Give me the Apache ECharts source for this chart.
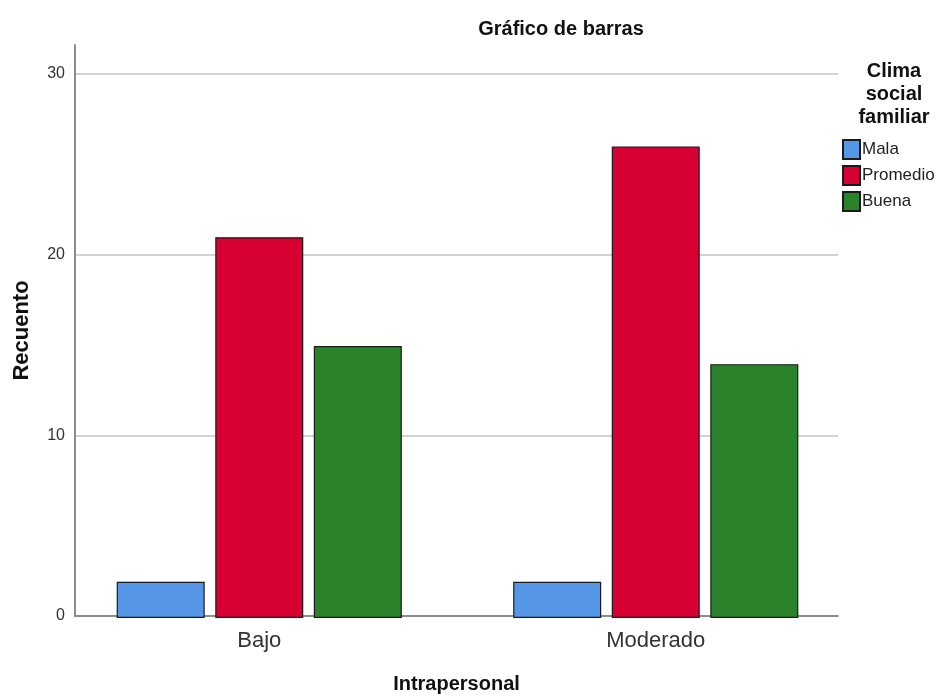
<!DOCTYPE html>
<html>
<head>
<meta charset="utf-8">
<script src="https://cdn.jsdelivr.net/npm/echarts@6/dist/echarts.min.js"></script>
<style>html,body{margin:0;padding:0;background:#fff;}#c{width:939px;height:699px;}</style>
</head>
<body>
<div id="c"></div>
<script>
const categories = ['Bajo', 'Moderado'];
const seriesNames = ['Mala', 'Promedio', 'Buena'];
const mala = [2, 2];
const promedio = [21, 26];
const buena = [15, 14];
const yTicks = [0, 10, 20, 30];

const colors = ['#5597E6', '#D60032', '#2A822A'];
const values = [mala, promedio, buena];
const FONT = '"Liberation Sans", Arial, sans-serif';
const YMAX = 31.6;

const chart = echarts.init(document.getElementById('c'), null, {renderer: 'canvas'});
chart.setOption({
  animation: false,
  backgroundColor: '#fff',
  title: [
    {text: 'Gráfico de barras', left: 556, top: 14, textAlign: 'center',
     textStyle: {fontFamily: FONT, fontWeight: 'bold', fontSize: 20, color: '#111'}},
    {text: 'Clima\nsocial\nfamiliar', left: 889, top: 55, textAlign: 'center',
     textStyle: {fontFamily: FONT, fontWeight: 'bold', fontSize: 20, lineHeight: 23, color: '#111'}}
  ],
  legend: {
    orient: 'vertical', left: 842, top: 139, padding: 0,
    itemWidth: 17, itemHeight: 19, itemGap: 5,
    icon: 'rect',
    textStyle: {fontFamily: FONT, fontSize: 17, color: '#222', padding: [0, 0, 0, -3]},
    data: seriesNames
  },
  grid: [
    {left: 75, right: 101, top: 45, bottom: 81},
    {left: 61, width: 793, top: 45, bottom: 81}
  ],
  xAxis: [
    {type: 'category', gridIndex: 0, data: categories,
     axisLine: {show: true, lineStyle: {color: '#8c8c8c', width: 2}},
     axisTick: {show: false}, axisLabel: {show: false},
     name: 'Intrapersonal', nameLocation: 'middle', nameGap: 58,
     nameTextStyle: {fontFamily: FONT, fontWeight: 'bold', fontSize: 20, color: '#111'}},
    {type: 'category', gridIndex: 1, data: categories,
     axisLine: {show: false}, axisTick: {show: false},
     axisLabel: {fontFamily: FONT, fontSize: 22, color: '#333', margin: 12}}
  ],
  yAxis: [
    {type: 'value', gridIndex: 0, min: 0, max: YMAX, interval: 10,
     axisLine: {show: true, lineStyle: {color: '#8c8c8c', width: 2}},
     axisTick: {show: false},
     axisLabel: {fontFamily: FONT, fontSize: 16, color: '#333', margin: 10, showMaxLabel: false,
       formatter: v => yTicks.includes(v) ? String(v) : ''},
     splitLine: {show: true, showMaxLine: false, lineStyle: {color: '#d2d2d2', width: 2}},
     name: 'Recuento', nameLocation: 'middle', nameGap: 42,
     nameTextStyle: {fontFamily: FONT, fontWeight: 'bold', fontSize: 22, color: '#111'}},
    {type: 'value', gridIndex: 1, min: 0, max: YMAX, interval: 10, show: false,
     splitLine: {show: false}}
  ],
  series: seriesNames.map((n, i) => ({
    name: n, type: 'bar', xAxisIndex: 1, yAxisIndex: 1,
    data: values[i], barWidth: 88, barGap: '12%',
    itemStyle: {color: colors[i], borderColor: '#1a1a1a', borderWidth: 1.2},
    z: 3
  }))
});
</script>
</body>
</html>
